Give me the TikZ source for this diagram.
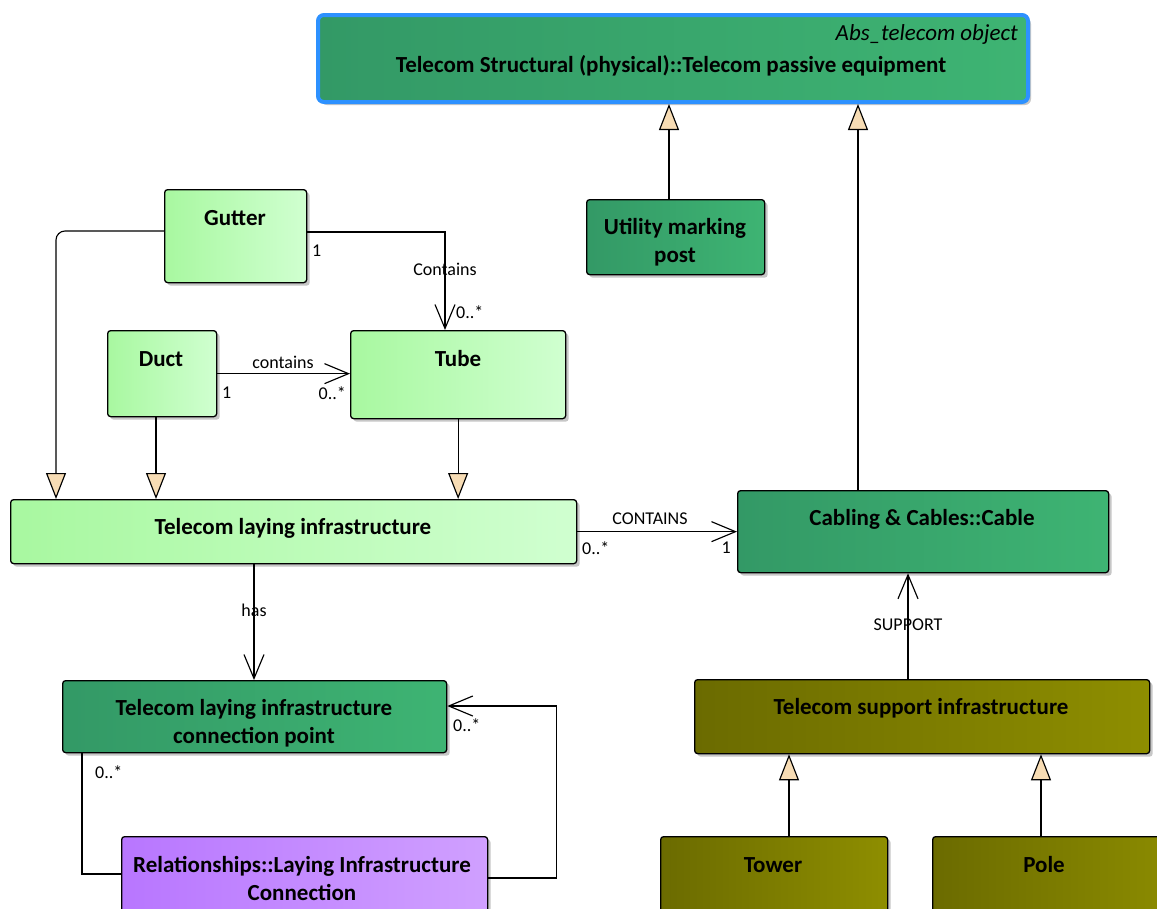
\documentclass[tikz,border=0pt]{standalone}
\usepackage{fontspec}
\setmainfont{Carlito}
\usetikzlibrary{arrows.meta,calc,shadows}
\definecolor{lgL}{RGB}{168,248,160}
\definecolor{lgR}{RGB}{208,255,208}
\definecolor{dgL}{RGB}{51,153,102}
\definecolor{dgR}{RGB}{62,180,115}
\definecolor{olL}{RGB}{107,107,0}
\definecolor{olR}{RGB}{142,142,0}
\definecolor{puL}{RGB}{184,118,255}
\definecolor{puR}{RGB}{208,160,255}
\definecolor{tri}{RGB}{247,220,180}
\definecolor{blueB}{RGB}{45,145,255}
\tikzset{
  cls/.style={draw=black, line width=1.3pt, rounded corners=3pt, anchor=north west, inner sep=0pt,
    drop shadow={shadow xshift=3pt, shadow yshift=-3pt, fill=black!22, opacity=1}},
  lg/.style={left color=lgL, right color=lgR},
  dg/.style={left color=dgL, right color=dgR},
  ol/.style={left color=olL, right color=olR},
  pu/.style={left color=puL, right color=puR},
  ttl/.style={font=\bfseries\fontsize{23}{28}\selectfont, align=center, inner sep=0pt},
  lbl/.style={font=\fontsize{18}{20}\selectfont, inner sep=0pt},
  conn/.style={draw=black, line width=1.15pt},
  gen/.style={conn, -{Triangle[length=26pt,width=20pt,fill=tri]}},
  assoc/.style={conn, -{Straight Barb[length=24pt,width=20pt]}},
}
\begin{document}
\begin{tikzpicture}[x=1pt,y=-1pt]
\useasboundingbox (0,0) rectangle (1157,908);
\clip (0,0) rectangle (1157,908);
\fill[white] (0,0) rectangle (1157,908);

% boxes
\node[cls, dg, draw=blueB, line width=4pt, rounded corners=6pt, minimum width=710, minimum height=87] (top) at (316,13) {};
\node[cls, dg, minimum width=178, minimum height=75] (util) at (586,199) {};
\node[cls, lg, minimum width=142, minimum height=93] (gutter) at (164,189) {};
\node[cls, lg, minimum width=109, minimum height=86] (duct) at (107,330) {};
\node[cls, lg, minimum width=215, minimum height=88] (tube) at (350,330) {};
\node[cls, lg, minimum width=566, minimum height=64] (tli) at (10,499) {};
\node[cls, dg, minimum width=371, minimum height=82] (cable) at (737,490) {};
\node[cls, ol, minimum width=455, minimum height=74] (sup) at (694,679) {};
\node[cls, ol, minimum width=227, minimum height=110] (tower) at (660,836) {};
\node[cls, ol, minimum width=260, minimum height=110] (pole) at (932,836) {};
\node[cls, dg, minimum width=384, minimum height=72] (cp) at (62,680) {};
\node[cls, pu, minimum width=366, minimum height=110] (rel) at (121,836) {};

% texts
\node[font=\itshape\fontsize{23}{26}\selectfont, inner sep=0pt, anchor=east] (topA) at (1018,34) {Abs\_telecom object};
\node[ttl] (topT) at (671,66) {Telecom Structural (physical)::Telecom passive equipment};
\node[ttl] (utilT) at (675,242) {Utility marking\\post};
\node[ttl] (gutterT) at (235,218) {Gutter};
\node[ttl] (ductT) at (161,359) {Duct};
\node[ttl] (tubeT) at (458,359) {Tube};
\node[ttl] (tliT) at (293,528) {Telecom laying infrastructure};
\node[ttl] (cableT) at (922,519) {Cabling \& Cables::Cable};
\node[ttl] (supT) at (921,708) {Telecom support infrastructure};
\node[ttl] (towerT) at (773,865) {Tower};
\node[ttl] (poleT) at (1044,865) {Pole};
\node[ttl] (cpT) at (254,723) {Telecom laying infrastructure\\connection point};
\node[ttl] (relT) at (302,878) {Relationships::Laying Infrastructure\\Connection};

% generalizations
\coordinate (u1) at ($(util.north west)+(83,0)$);
\draw[gen] (u1) -- (u1 |- top.south);
\coordinate (k1) at ($(cable.north west)+(121,0)$);
\draw[gen] (k1) -- (k1 |- top.south);
\coordinate (g1) at ($(gutter.north west)+(0,42)$);
\coordinate (g2) at ($(tli.north west)+(46,0)$);
\draw[gen, rounded corners=9pt] (g1) -| (g2);
\coordinate (d1) at ($(duct.south west)+(49,0)$);
\draw[gen] (d1) -- (d1 |- tli.north);
\draw[gen] (tube.south) -- (tube.south |- tli.north);
\coordinate (t1) at ($(tower.north west)+(129,0)$);
\draw[gen] (t1) -- (t1 |- sup.south);
\coordinate (p1) at ($(pole.north west)+(109,0)$);
\draw[gen] (p1) -- (p1 |- sup.south);

% associations
\coordinate (g3) at ($(gutter.north east)+(0,43)$);
\coordinate (g4) at ($(tube.north west)+(95,0)$);
\draw[assoc] (g3) -| (g4);
\node[lbl] (lContains) at (445,269) {Contains};
\node[lbl, anchor=west] (mG1) at (312,251) {1};
\node[lbl, anchor=west] (mG2) at (456,312) {0..*};

\draw[assoc] (duct.east) -- (duct.east -| tube.west);
\node[lbl] (lcontains) at (283,362) {contains};
\node[lbl, anchor=west] (mD1) at (222,393) {1};
\node[lbl, anchor=east] (mD2) at (346,393) {0..*};

\draw[assoc] (tli.east) -- (tli.east -| cable.west);
\node[lbl] (lCONTAINS) at (650,519) {CONTAINS};
\node[lbl, anchor=west] (mT1) at (582,548) {0..*};
\node[lbl, anchor=east] (mT2) at (731,548) {1};

\coordinate (h1) at ($(tli.south west)+(244,0)$);
\draw[assoc] (h1) -- (h1 |- cp.north);
\node[lbl] (lhas) at (254,610) {has};

\coordinate (s1) at ($(sup.north west)+(214,0)$);
\draw[assoc] (s1) -- (s1 |- cable.south);
\node[lbl] (lSUPPORT) at (908,625) {SUPPORT};

\coordinate (c1) at ($(cp.south west)+(20,0)$);
\coordinate (c2) at ($(rel.north west)+(0,38)$);
\draw[conn] (c1) |- (c2);
\node[lbl, anchor=west] (mC1) at (95,772) {0..*};

\coordinate (c3) at ($(rel.north east)+(0,42)$);
\coordinate (c4) at ($(cp.north east)+(0,26)$);
\draw[assoc] (c3) -- ++(68,0) |- (c4);
\node[lbl, anchor=west] (mC2) at (453,725) {0..*};
\end{tikzpicture}
\end{document}
